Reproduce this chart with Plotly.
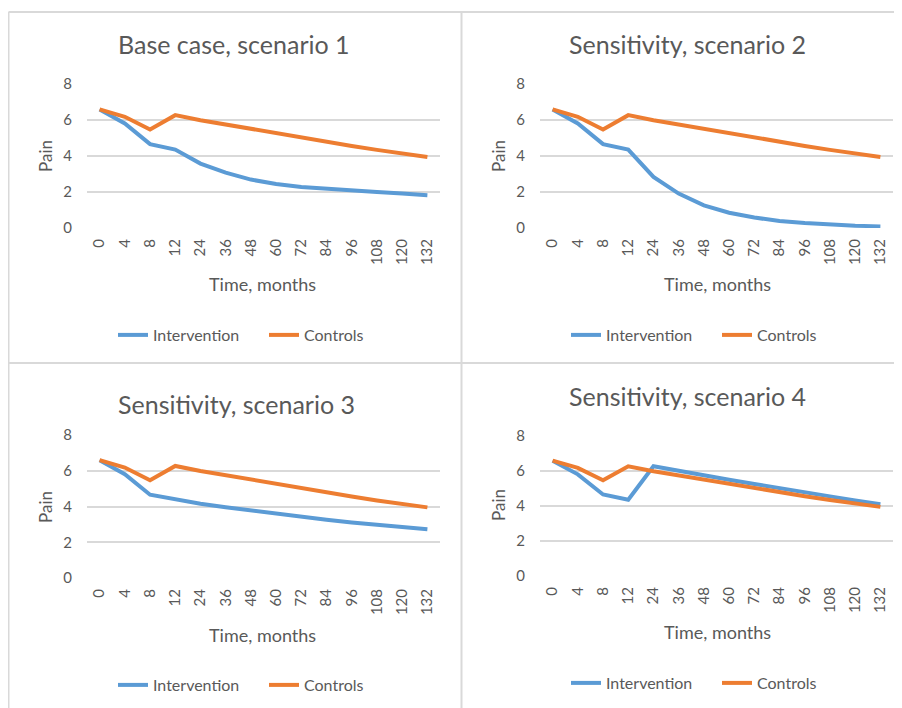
import plotly.graph_objects as go

# The page body has an 8px margin, so the figure is drawn 8px smaller and
# page-pixel positions are converted with an 8px offset.
OFF = 8
W, H = 902 - OFF, 708 - OFF

months = ["0", "4", "8", "12", "24", "36", "48", "60", "72", "84", "96", "108", "120", "132"]
y_ticks = [0, 2, 4, 6, 8]

controls = [6.59, 6.18, 5.47, 6.27, 5.99, 5.75, 5.49, 5.23, 5.01, 4.77, 4.56, 4.34, 4.14, 3.95]
intervention_s1 = [6.59, 5.81, 4.66, 4.36, 3.58, 3.08, 2.69, 2.45, 2.28, 2.17, 2.08, 2.00, 1.91, 1.82]
intervention_s2 = [6.59, 5.81, 4.66, 4.36, 2.84, 1.91, 1.26, 0.85, 0.58, 0.39, 0.28, 0.19, 0.13, 0.09]
intervention_s3 = [6.59, 5.81, 4.66, 4.41, 4.15, 3.96, 3.78, 3.59, 3.40, 3.26, 3.11, 2.98, 2.85, 2.73]
intervention_s4 = [6.59, 5.81, 4.66, 4.36, 6.27, 6.00, 5.75, 5.50, 5.26, 5.01, 4.78, 4.55, 4.32, 4.10]

titles = ["Base case, scenario 1", "Sensitivity, scenario 2",
          "Sensitivity, scenario 3", "Sensitivity, scenario 4"]
interventions = [intervention_s1, intervention_s2, intervention_s3, intervention_s4]

BLUE = "#5B9BD5"
ORANGE = "#ED7D31"
TXT = "#595959"
GRID = "#D9D9D9"
FONT = "Lato"


def px(x):
    return (x - OFF) / W


def py(y):
    return (H - (y - OFF)) / H


# page-pixel layout of each panel
panels = [
    dict(x0=87, x1=440, y0=228, y8=84, title=(234, 44), xt=(263, 284), yt=(45, 156), leg=(113, 335)),
    dict(x0=540, x1=893, y0=228, y8=84, title=(687, 44), xt=(717, 284), yt=(498, 156), leg=(566, 335)),
    dict(x0=87, x1=440, y0=578, y8=435, title=(236, 404), xt=(263, 635), yt=(45, 507), leg=(113, 685)),
    dict(x0=540, x1=893, y0=576, y8=436, title=(687, 396), xt=(717, 632), yt=(498, 505), leg=(566, 683)),
]

fig = go.Figure()
annotations = []
layout = {}
for i, p in enumerate(panels):
    n = "" if i == 0 else str(i + 1)
    xa, ya = "x" + n, "y" + n
    leg = "legend" + n
    fig.add_trace(go.Scatter(x=months, y=interventions[i], mode="lines", name="Intervention",
                             line=dict(color=BLUE, width=4), xaxis=xa, yaxis=ya, legend=leg))
    fig.add_trace(go.Scatter(x=months, y=controls, mode="lines", name="Controls",
                             line=dict(color=ORANGE, width=4), xaxis=xa, yaxis=ya, legend=leg))
    layout["xaxis" + n] = dict(
        domain=[px(p["x0"]), px(p["x1"])], anchor=ya, type="category", automargin=False,
        range=[-0.5, len(months) - 0.5],
        tickangle=-90, tickfont=dict(family=FONT, size=15, color=TXT),
        showgrid=False, zeroline=False, showline=False, ticks="", ticklabelstandoff=7,
    )
    layout["yaxis" + n] = dict(
        domain=[py(p["y0"]), py(p["y8"])], anchor=xa, range=[0, 8], automargin=False,
        tickvals=y_ticks, tickfont=dict(family=FONT, size=15, color=TXT),
        showgrid=True, gridcolor=GRID, gridwidth=1.5, zeroline=False, showline=False,
        ticks="", ticklabelstandoff=14,
    )
    layout[leg] = dict(
        orientation="h", x=px(p["leg"][0]), y=py(p["leg"][1]),
        xanchor="left", yanchor="middle", bgcolor="rgba(0,0,0,0)",
        font=dict(family=FONT, size=16, color=TXT), itemwidth=30, entrywidth=106,
    )
    annotations.append(dict(text=titles[i], x=px(p["title"][0]), y=py(p["title"][1]),
                            xref="paper", yref="paper", showarrow=False,
                            xanchor="center", yanchor="middle",
                            font=dict(family=FONT, size=25, color=TXT)))
    annotations.append(dict(text="Time, months", x=px(p["xt"][0]), y=py(p["xt"][1]),
                            xref="paper", yref="paper", showarrow=False,
                            xanchor="center", yanchor="middle",
                            font=dict(family=FONT, size=18, color=TXT)))
    annotations.append(dict(text="Pain", x=px(p["yt"][0]), y=py(p["yt"][1]),
                            xref="paper", yref="paper", showarrow=False, textangle=-90,
                            xanchor="center", yanchor="middle",
                            font=dict(family=FONT, size=17, color=TXT)))

line_style = dict(color=GRID, width=2)
top_y, div_y = py(12), py(363)
left_x, div_x = px(8.5), px(461.5)
shapes = [
    dict(type="line", xref="paper", yref="paper", x0=left_x, x1=1, y0=top_y, y1=top_y, line=line_style),
    dict(type="line", xref="paper", yref="paper", x0=left_x, x1=left_x, y0=0, y1=top_y, line=line_style),
    dict(type="line", xref="paper", yref="paper", x0=div_x, x1=div_x, y0=0, y1=top_y, line=line_style),
    dict(type="line", xref="paper", yref="paper", x0=left_x, x1=1, y0=div_y, y1=div_y, line=line_style),
]

fig.update_layout(
    template="none",
    width=W, height=H, margin=dict(l=0, r=0, t=0, b=0, pad=0, autoexpand=False),
    paper_bgcolor="white", plot_bgcolor="white",
    annotations=annotations, shapes=shapes, **layout,
)

fig.write_html("out.html")
